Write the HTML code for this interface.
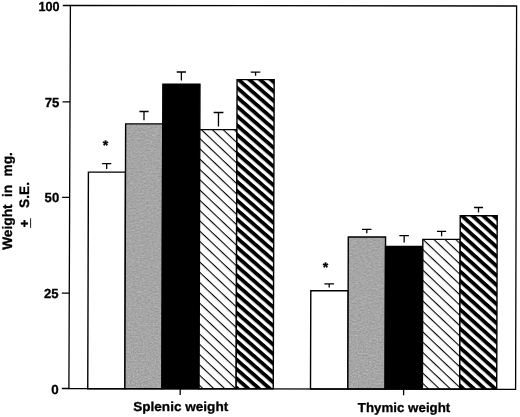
<!DOCTYPE html>
<html>
<head>
<meta charset="utf-8">
<title>Splenic and thymic weight</title>
<style>
html,body{margin:0;padding:0;background:#fff;}
body{width:520px;height:417px;overflow:hidden;font-family:"Liberation Sans",sans-serif;}
svg{display:block;will-change:transform;}
text{font-family:"Liberation Sans",sans-serif;font-weight:bold;fill:#000;stroke:#000;stroke-width:0.3px;stroke-linejoin:round;text-rendering:geometricPrecision;}
</style>
</head>
<body>
<svg width="520" height="417" viewBox="0 0 520 417">
<defs>
  <pattern id="thin" patternUnits="userSpaceOnUse" width="20" height="7.475" patternTransform="translate(9.3 0) rotate(43.3)">
    <rect x="0" y="0" width="20" height="7.475" fill="#fff"/>
    <rect x="0" y="0" width="20" height="1.1" fill="#000"/>
  </pattern>
  <pattern id="thin2" patternUnits="userSpaceOnUse" width="20" height="7.475" patternTransform="translate(5.8 0) rotate(43.3)">
    <rect x="0" y="0" width="20" height="7.475" fill="#fff"/>
    <rect x="0" y="0" width="20" height="1.1" fill="#000"/>
  </pattern>
  <pattern id="thick" patternUnits="userSpaceOnUse" width="20" height="7.07" patternTransform="translate(8.8 0) rotate(41)">
    <rect x="0" y="0" width="20" height="7.07" fill="#fff"/>
    <rect x="0" y="0" width="20" height="3.8" fill="#000"/>
  </pattern>
  <pattern id="thick2" patternUnits="userSpaceOnUse" width="20" height="7.08" patternTransform="translate(11.7 0) rotate(41.9)">
    <rect x="0" y="0" width="20" height="7.08" fill="#fff"/>
    <rect x="0" y="0" width="20" height="3.8" fill="#000"/>
  </pattern>
  <filter id="grain" x="0" y="0" width="100%" height="100%" color-interpolation-filters="sRGB">
    <feTurbulence type="fractalNoise" baseFrequency="0.6" numOctaves="2" seed="11" result="t"/>
    <feColorMatrix in="t" type="matrix" values="0.24 0 0 0 0.53  0.24 0 0 0 0.53  0.24 0 0 0 0.53  0 0 0 0 1" result="g"/>
    <feComposite in="g" in2="SourceGraphic" operator="in"/>
  </filter>
</defs>
<rect x="0" y="0" width="520" height="417" fill="#fff"/>

<!-- bars and error bars (slightly skewed like the scanned original) -->
<g transform="matrix(1 0 -0.003 1 1.1661 0)">
<g stroke="#000" stroke-width="1.4">
  <rect x="87.75" y="172.10" width="37.10" height="216.60" fill="#fff"/>
  <rect x="124.85" y="123.90" width="37.10" height="264.80" fill="#a4a4a4" stroke="none" filter="url(#grain)"/>
  <rect x="124.85" y="123.90" width="37.10" height="264.80" fill="none"/>
  <rect x="161.95" y="84.10" width="37.10" height="304.60" fill="#000"/>
  <rect x="199.05" y="129.60" width="37.10" height="259.10" fill="url(#thin)"/>
  <rect x="236.15" y="79.60" width="37.10" height="309.10" fill="url(#thick)"/>
  <rect x="310.50" y="290.70" width="37.35" height="98.30" fill="#fff"/>
  <rect x="347.85" y="237.00" width="37.25" height="152.00" fill="#a4a4a4" stroke="none" filter="url(#grain)"/>
  <rect x="347.85" y="237.00" width="37.25" height="152.00" fill="none"/>
  <rect x="385.10" y="246.50" width="37.30" height="142.50" fill="#000"/>
  <rect x="422.40" y="239.40" width="37.30" height="149.60" fill="url(#thin2)"/>
  <rect x="459.70" y="215.80" width="37.00" height="173.20" fill="url(#thick2)"/>
</g>
<g stroke="#000" stroke-width="1.3" fill="none">
  <path d="M101.4 163.6H110.6M106.02 163.6V169.0"/>
  <path d="M138.6 111.5H147.8M143.17 111.5V120.3"/>
  <path d="M175.8 72.0H185.0M180.45 72.0V80.5"/>
  <path d="M212.8 112.5H222.6M217.67 112.5V126.4"/>
  <path d="M249.8 72.2H259.4M254.65 72.2V75.8"/>
  <path d="M324.1 283.8H333.7M328.89 283.8V287.6"/>
  <path d="M361.6 229.3H371.0M366.32 229.3V233.2"/>
  <path d="M398.9 235.7H408.5M403.74 235.7V242.5"/>
  <path d="M436.5 231.4H445.7M441.13 231.4V236.2"/>
  <path d="M473.5 207.5H482.5M477.96 207.5V212.6"/>
</g>
</g>

<!-- frame -->
<g stroke="#000" stroke-width="1.3" fill="none">
  <path d="M70.4 5.5 L516.6 6 L515.6 389.4 L68.9 388.5 Z"/>
  <path d="M62.8 5.5H70.4 M62.5 101.9H70 M62.1 197.4H69.7 M61.8 293.1H69.3 M61.8 388.5H69"/>
  <path d="M180.2 388.8V395 M403.6 389V395.2"/>
</g>

<!-- asterisks -->
<text x="105.4" y="149.5" font-size="14" text-anchor="middle">*</text>
<text x="325.5" y="272.4" font-size="14" text-anchor="middle">*</text>

<!-- y tick labels -->
<g font-size="13.1">
<text transform="translate(59.5 10.6) scale(0.965 1)" text-anchor="end">100</text>
<text transform="translate(59.4 106.8) scale(1.0 1)" text-anchor="end">75</text>
<text transform="translate(59.2 202.4) scale(1.0 1)" text-anchor="end">50</text>
<text transform="translate(58.6 297.9) scale(1.0 1)" text-anchor="end">25</text>
<text transform="translate(58.8 393.9) scale(1.02 1)" text-anchor="end">0</text>
</g>

<!-- x labels -->
<text x="133.2" y="411.3" font-size="13" textLength="95" lengthAdjust="spacingAndGlyphs">Splenic weight</text>
<text x="357.8" y="411.9" font-size="13" textLength="92.5" lengthAdjust="spacingAndGlyphs">Thymic weight</text>

<!-- y axis label -->
<g font-size="13.7">
<text transform="translate(12.3 249.8) rotate(-90)">Weight</text>
<text transform="translate(12.3 197.0) rotate(-90)">in</text>
<text transform="translate(12.3 176.5) rotate(-90)">mg.</text>
<text transform="translate(29.4 227.5) rotate(-90)">+</text>
<text transform="translate(29.0 207.9) rotate(-90)">S.E.</text>
</g>
<path d="M30.6 218.3V227.8" stroke="#000" stroke-width="0.9" fill="none"/>
</svg>
</body>
</html>
